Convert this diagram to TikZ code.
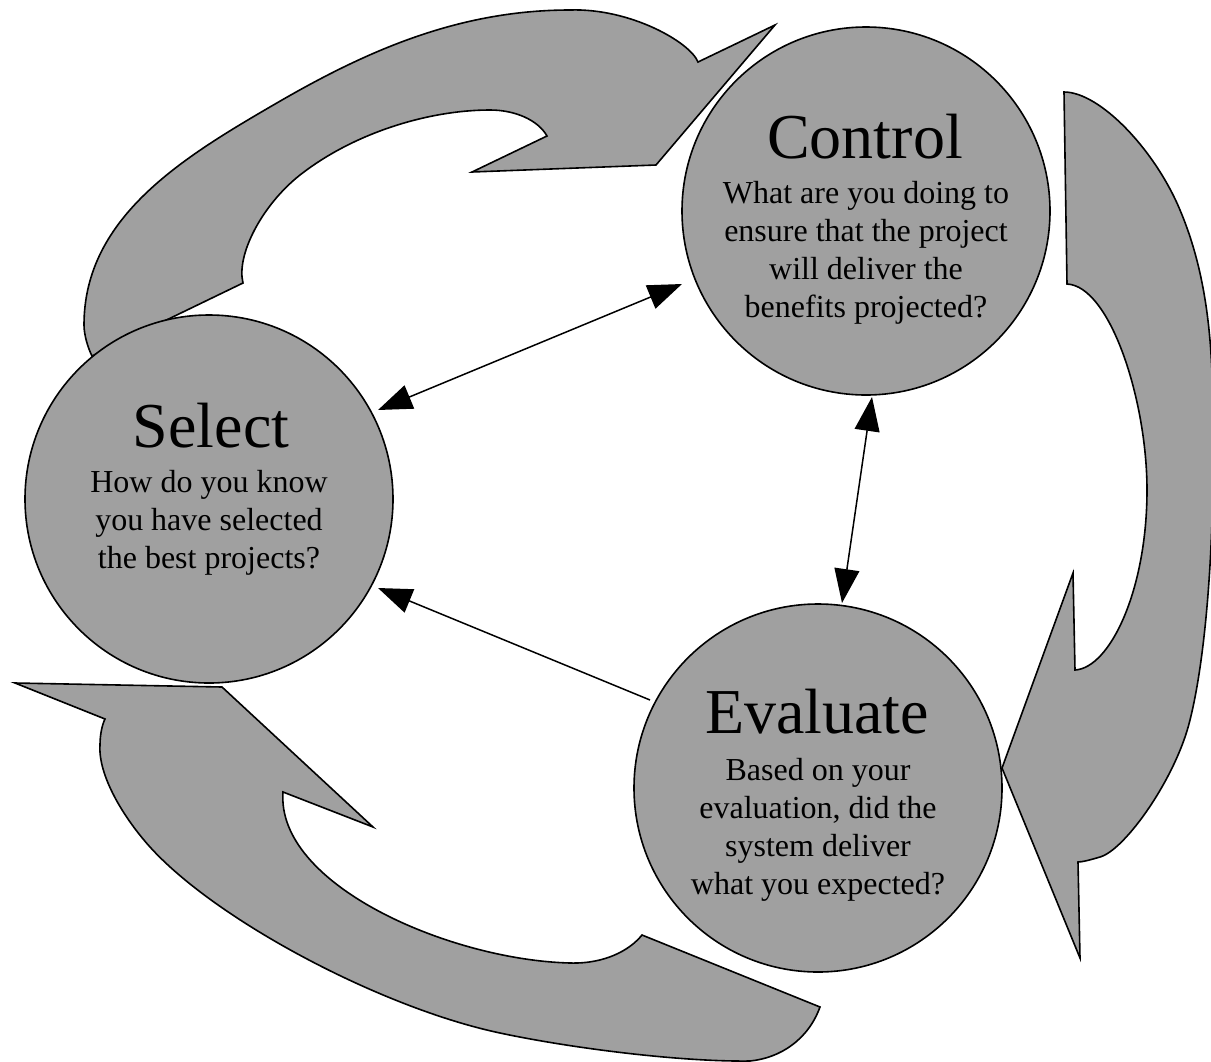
\documentclass[tikz,border=0pt]{standalone}
\usepackage{fontspec}
\setmainfont{Liberation Serif}
\usetikzlibrary{arrows.meta}
\definecolor{shapegray}{RGB}{160,160,160}
\begin{document}
\begin{tikzpicture}[x=0.5pt,y=-0.5pt,
  bigarrow/.style={fill=shapegray,draw=black,line width=0.8pt,line join=miter},
  stage/.style={circle,fill=shapegray,draw=black,line width=0.8pt,minimum size=184pt,inner sep=0pt,outer sep=0pt},
  stagetitle/.style={font=\fontsize{32}{38}\selectfont,anchor=base,inner sep=0pt},
  stagebody/.style={font=\fontsize{16}{19}\selectfont,anchor=base,inner sep=0pt},
  link/.style={line width=0.75pt,draw=black},
  biarrow/.style={link,arrows={Triangle[length=17pt,width=12.5pt]-Triangle[length=17pt,width=12.5pt]}},
  onearrow/.style={link,arrows={-Triangle[length=17pt,width=12.5pt]}}]
\useasboundingbox (0,0) rectangle (1211,1061);
\clip (0,0) rectangle (1211,1061);

% top-left curved arrow (towards Control)
\path[bigarrow] (92,356) -- (243,283)
  .. controls (236,255) and (262,205) .. (300,175)
  .. controls (355,132) and (430,110) .. (490,110)
  .. controls (515,110) and (538,120) .. (547,136)
  -- (472,172) -- (656,165) -- (775,25) -- (698,62)
  .. controls (690,42) and (630,8) .. (570,10)
  .. controls (460,10) and (369,50) .. (282,100)
  .. controls (187,155) and (84,215) .. (84,325)
  .. controls (84,335) and (88,348) .. (92,356)
  -- cycle;

% right curved arrow (towards Evaluate)
\path[bigarrow] (1064,92) -- (1067,284)
  .. controls (1110,286) and (1147,400) .. (1147,490)
  .. controls (1147,590) and (1110,668) .. (1075,670)
  -- (1073,573) -- (1002,768) -- (1080,958) -- (1078,862)
  .. controls (1082,862) and (1090,860) .. (1100,857)
  .. controls (1125,850) and (1176,778) .. (1190,720)
  .. controls (1205,660) and (1213,560) .. (1213,460)
  .. controls (1213,380) and (1215,293) .. (1180,210)
  .. controls (1155,150) and (1100,92) .. (1064,92)
  -- cycle;

% bottom-left curved arrow (towards Select)
\path[bigarrow] (15,683) -- (222,687) -- (373,827) -- (283,792)
  .. controls (276,885) and (450,960) .. (570,963)
  .. controls (605,964) and (630,950) .. (642,935)
  -- (820,1007)
  .. controls (808,1040) and (780,1058) .. (750,1061)
  .. controls (680,1062) and (570,1048) .. (500,1033)
  .. controls (382,1008) and (217,921) .. (150,847)
  .. controls (123,817) and (98,775) .. (100,745)
  .. controls (100,735) and (102,725) .. (105,719)
  -- cycle;

% stages
\node[stage] (sel) at (209,499) {};
\node[stage] (ctl) at (866,211) {};
\node[stage] (eva) at (818,788) {};

\node[stagetitle] (selH) at (211,447) {Select};
\node[stagebody] (selB) at (209,492) {\begin{tabular}[t]{@{}c@{}}How do you know\\you have selected\\the best projects?\end{tabular}};

\node[stagetitle] (ctlH) at (865,158) {Control};
\node[stagebody] (ctlB) at (866,203) {\begin{tabular}[t]{@{}c@{}}What are you doing to\\ensure that the project\\will deliver the\\benefits projected?\end{tabular}};

\node[stagetitle] (evaH) at (817,733) {Evaluate};
\node[stagebody] (evaB) at (818,780) {\begin{tabular}[t]{@{}c@{}}Based on your\\evaluation, did the\\system deliver\\what you expected?\end{tabular}};

% connectors
\draw[biarrow] ([shift={(169,-89)}]sel.center) -- ([shift={(-184,73)}]ctl.center);
\draw[biarrow] ([shift={(6,186)}]ctl.center) -- ([shift={(24,-185)}]eva.center);
\draw[onearrow] ([shift={(-168,-88)}]eva.center) -- ([shift={(169,89)}]sel.center);
\end{tikzpicture}
\end{document}
